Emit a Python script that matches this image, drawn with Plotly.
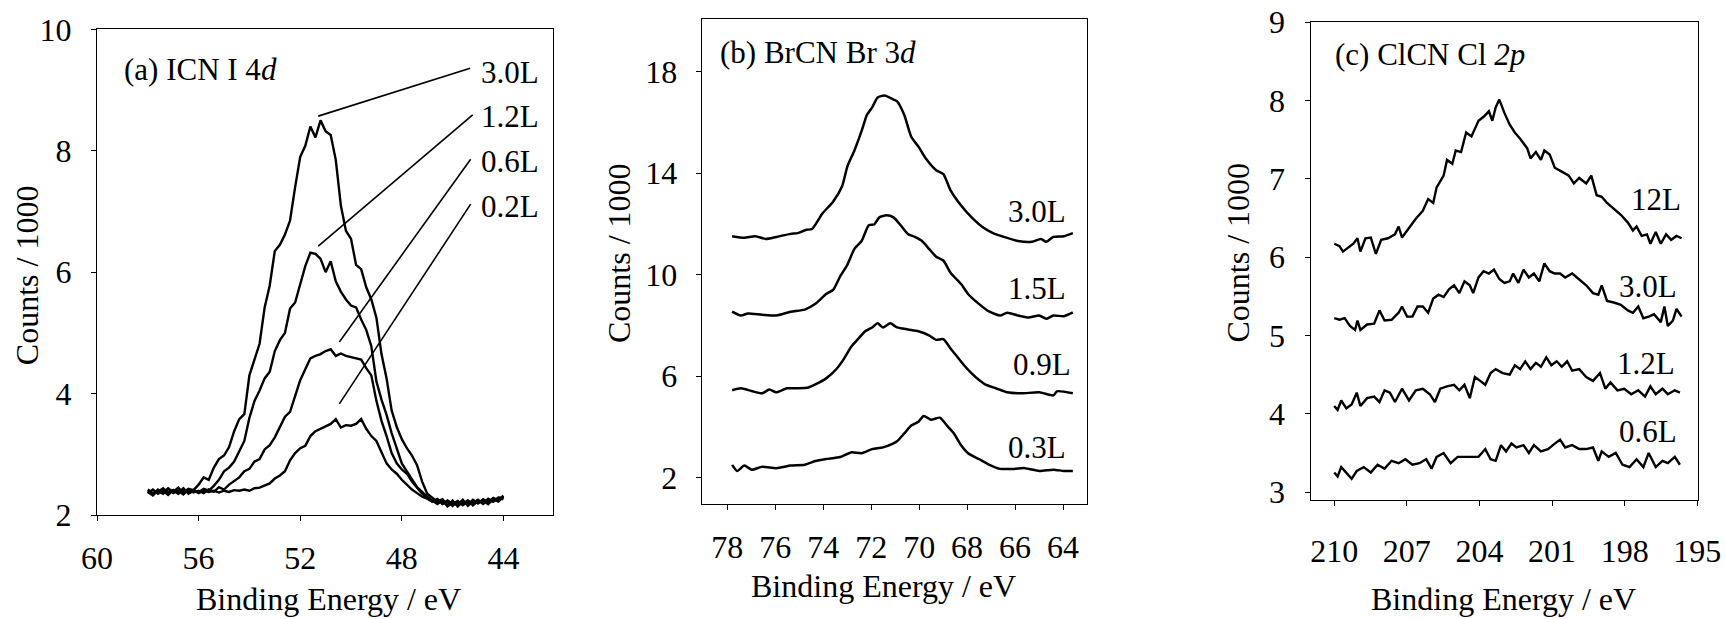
import numpy as np
import plotly.graph_objects as go

FONT = "Liberation Serif"
FS_AXIS = 32
FS_TEXT = 31

# ---------------- (a) ICN, I 4d ----------------
icn_energy = np.round(np.arange(58.0, 43.99, -0.2), 1)
icn_30L = [2.40, 2.34, 2.42, 2.36, 2.44, 2.38, 2.45, 2.37, 2.43, 2.41, 2.50, 2.62, 2.58, 2.78, 2.92,
           2.98, 3.12, 3.38, 3.58, 3.66, 4.30, 4.55, 4.82, 5.42, 5.78, 6.35, 6.45, 6.62, 6.85, 7.40,
           7.90, 8.08, 8.40, 8.22, 8.50, 8.32, 8.26, 7.85, 7.10, 6.68, 6.55, 6.12, 6.05, 5.75, 5.55,
           5.25, 4.65, 4.25, 3.72, 3.45, 3.25, 3.10, 2.98, 2.82, 2.55, 2.35, 2.28, 2.22, 2.26, 2.16,
           2.24, 2.14, 2.22, 2.18, 2.25, 2.19, 2.26, 2.21, 2.28, 2.24, 2.32]
icn_12L = [2.36, 2.42, 2.35, 2.40, 2.33, 2.41, 2.36, 2.44, 2.35, 2.40, 2.38, 2.43, 2.40, 2.48, 2.58,
           2.72, 2.78, 2.88, 3.05, 3.22, 3.60, 3.88, 4.05, 4.25, 4.36, 4.70, 4.88, 5.00, 5.40, 5.50,
           5.80, 6.10, 6.32, 6.30, 6.22, 6.00, 6.18, 5.85, 5.68, 5.55, 5.45, 5.42, 5.22, 5.05, 4.78,
           4.20, 3.90, 3.65, 3.35, 3.10, 2.85, 2.72, 2.58, 2.46, 2.38, 2.30, 2.24, 2.18, 2.24, 2.14,
           2.20, 2.17, 2.25, 2.15, 2.22, 2.20, 2.24, 2.18, 2.26, 2.22, 2.30]
icn_06L = [2.38, 2.32, 2.40, 2.35, 2.43, 2.36, 2.40, 2.34, 2.42, 2.37, 2.40, 2.36, 2.42, 2.38, 2.46,
           2.42, 2.50, 2.56, 2.62, 2.72, 2.76, 2.88, 2.92, 3.08, 3.15, 3.28, 3.45, 3.62, 3.70, 3.95,
           4.22, 4.40, 4.58, 4.62, 4.65, 4.70, 4.73, 4.62, 4.66, 4.62, 4.60, 4.58, 4.56, 4.42, 4.30,
           3.88, 3.55, 3.30, 3.02, 2.85, 2.75, 2.68, 2.55, 2.45, 2.35, 2.28, 2.22, 2.26, 2.18, 2.22,
           2.15, 2.22, 2.18, 2.24, 2.16, 2.23, 2.20, 2.27, 2.22, 2.28, 2.26]
icn_02L = [2.42, 2.36, 2.38, 2.44, 2.37, 2.41, 2.35, 2.40, 2.38, 2.41, 2.36, 2.40, 2.38, 2.40, 2.37,
           2.40, 2.38, 2.41, 2.40, 2.42, 2.40, 2.44, 2.45, 2.48, 2.52, 2.60, 2.65, 2.72, 2.90, 3.02,
           3.10, 3.14, 3.30, 3.38, 3.42, 3.45, 3.50, 3.58, 3.44, 3.48, 3.47, 3.50, 3.58, 3.42, 3.30,
           3.22, 3.02, 2.85, 2.75, 2.68, 2.58, 2.50, 2.42, 2.36, 2.30, 2.27, 2.22, 2.26, 2.19, 2.24,
           2.18, 2.23, 2.16, 2.22, 2.20, 2.25, 2.18, 2.24, 2.22, 2.29, 2.28]
icn_labels = ["3.0L", "1.2L", "0.6L", "0.2L"]
# leader lines: from the curve (x, y) to the label (x, y)
icn_leader_from = [(51.29, 8.57), (51.29, 6.43), (50.46, 4.85), (50.46, 3.83)]
icn_leader_to = [(45.31, 9.36), (45.21, 8.59), (45.29, 7.86), (45.29, 7.12)]
icn_label_y = [9.29, 8.56, 7.82, 7.08]
icn_label_x = 44.95

# ---------------- (b) BrCN, Br 3d ----------------
brcn_30L_x = [77.8, 77.29, 76.84, 76.4, 75.96, 75.36, 75.07, 74.7, 74.47, 74.03, 73.59, 73.21, 72.99,
              72.7, 72.4, 72.18, 71.96, 71.73, 71.44, 71.07, 70.92, 70.62, 70.33, 70.03, 69.73, 69.29,
              68.99, 68.7, 68.25, 67.81, 67.36, 66.92, 66.47, 65.88, 65.29, 64.92, 64.7, 64.4, 63.96, 63.59]
brcn_30L_y = [11.52, 11.46, 11.52, 11.41, 11.49, 11.61, 11.64, 11.77, 11.8, 12.42, 12.88, 13.5, 14.28,
              14.9, 15.67, 16.3, 16.6, 16.99, 17.07, 16.91, 16.84, 16.3, 15.44, 15.05, 14.59, 14.12,
              13.97, 13.35, 12.73, 12.26, 11.88, 11.64, 11.49, 11.33, 11.3, 11.41, 11.3, 11.49, 11.52, 11.64]
brcn_15L_x = [77.8, 77.44, 77.14, 76.55, 75.96, 75.36, 74.77, 74.33, 73.88, 73.59, 73.29, 72.99, 72.7,
              72.4, 72.1, 71.88, 71.66, 71.36, 71.07, 70.77, 70.47, 70.18, 69.88, 69.59, 69.29, 68.99,
              68.7, 68.25, 67.96, 67.51, 67.07, 66.62, 66.33, 65.88, 65.44, 64.99, 64.7, 64.4, 63.96, 63.59]
brcn_15L_y = [8.54, 8.39, 8.47, 8.42, 8.39, 8.54, 8.62, 8.85, 9.24, 9.4, 9.94, 10.4, 11.02,
              11.33, 11.95, 11.98, 12.26, 12.34, 12.26, 11.95, 11.61, 11.49, 11.33, 11.02, 10.71, 10.56,
              10.09, 9.63, 9.24, 8.85, 8.54, 8.39, 8.5, 8.39, 8.31, 8.39, 8.26, 8.39, 8.36, 8.51]
brcn_09L_x = [77.8, 77.44, 76.99, 76.55, 76.25, 75.96, 75.51, 75.07, 74.62, 74.33, 73.88, 73.44, 73.14,
              72.84, 72.55, 72.25, 71.96, 71.73, 71.51, 71.21, 70.92, 70.47, 70.03, 69.59, 69.29, 68.99,
              68.7, 68.4, 68.1, 67.8, 67.5, 67.2, 66.8, 66.33, 65.73, 64.99, 64.4, 64.25, 63.59]
brcn_09L_y = [5.44, 5.52, 5.41, 5.32, 5.47, 5.36, 5.52, 5.52, 5.55, 5.67, 5.91, 6.29, 6.68,
              7.15, 7.46, 7.77, 7.92, 8.08, 7.92, 8.08, 7.92, 7.84, 7.77, 7.61, 7.43, 7.46,
              7.1, 6.75, 6.4, 6.1, 5.85, 5.65, 5.52, 5.36, 5.32, 5.36, 5.24, 5.4, 5.32]
brcn_03L_x = [77.8, 77.59, 77.29, 76.99, 76.55, 75.96, 75.36, 74.77, 74.33, 73.88, 73.29, 72.84, 72.4,
              71.96, 71.51, 71.07, 70.92, 70.62, 70.33, 70.03, 69.81, 69.51, 69.14, 68.84, 68.55, 68.25,
              67.96, 67.51, 67.07, 66.62, 66.03, 65.59, 64.99, 64.4, 63.96, 63.59]
brcn_03L_y = [2.5, 2.26, 2.47, 2.31, 2.42, 2.37, 2.47, 2.5, 2.65, 2.73, 2.81, 2.99, 2.96,
              3.12, 3.19, 3.35, 3.43, 3.74, 4.05, 4.2, 4.43, 4.28, 4.36, 4.05, 3.74, 3.27,
              2.96, 2.73, 2.5, 2.34, 2.34, 2.37, 2.26, 2.31, 2.26, 2.26]
brcn_labels = ["3.0L", "1.5L", "0.9L", "0.3L"]
brcn_label_x = [63.78, 63.78, 63.57, 63.78]
brcn_label_y = [12.49, 9.47, 6.44, 3.2]

# ---------------- (c) ClCN, Cl 2p ----------------
clcn_12L_x = [210, 209.78, 209.64, 209.43, 209.21, 209.04, 208.92, 208.71, 208.49, 208.28, 208.06, 207.78,
              207.49, 207.34, 207.2, 206.91, 206.63, 206.34, 206.12, 205.91, 205.77, 205.48, 205.34,
              205.12, 204.98, 204.76, 204.55, 204.33, 204.04, 203.83, 203.61, 203.47, 203.33, 203.18,
              202.97, 202.75, 202.54, 202.32, 202.03, 201.89, 201.67, 201.46, 201.32, 201.1, 200.89,
              200.6, 200.31, 200.1, 199.88, 199.59, 199.38, 199.16, 198.95, 198.73, 198.45, 198.16,
              197.87, 197.66, 197.51, 197.3, 197.08, 196.94, 196.72, 196.51, 196.29, 196.08, 195.86, 195.65]
clcn_12L_y = [6.17, 6.14, 6.07, 6.12, 6.17, 6.24, 6.07, 6.24, 6.25, 6.04, 6.22, 6.24,
              6.29, 6.39, 6.25, 6.37, 6.49, 6.59, 6.74, 6.69, 6.89, 7.04, 7.24,
              7.19, 7.36, 7.34, 7.59, 7.54, 7.74, 7.79, 7.86, 7.74, 7.91, 8.01,
              7.84, 7.69, 7.59, 7.51, 7.39, 7.26, 7.34, 7.24, 7.36, 7.31, 7.14,
              7.09, 7.04, 6.94, 7.01, 6.94, 7.04, 6.79, 6.77, 6.69, 6.62, 6.54,
              6.44, 6.34, 6.39, 6.27, 6.29, 6.17, 6.32, 6.17, 6.29, 6.22, 6.27, 6.24]
clcn_30L_x = [210, 209.78, 209.57, 209.35, 209.14, 209.04, 208.92, 208.64, 208.35, 208.13, 207.92, 207.63,
              207.34, 207.2, 206.99, 206.77, 206.56, 206.34, 206.12, 205.91, 205.69, 205.48, 205.26,
              205.05, 204.83, 204.62, 204.4, 204.26, 204.04, 203.83, 203.61, 203.4, 203.18, 202.97,
              202.75, 202.61, 202.39, 202.18, 201.96, 201.75, 201.53, 201.32, 201.1, 200.89, 200.67,
              200.46, 200.17, 199.88, 199.59, 199.31, 199.09, 198.95, 198.73, 198.45, 198.16, 197.87,
              197.66, 197.44, 197.23, 197.01, 196.79, 196.51, 196.36, 196.22, 196.01, 195.86, 195.65]
clcn_30L_y = [5.22, 5.2, 5.22, 5.12, 5.07, 5.19, 5.07, 5.14, 5.15, 5.32, 5.19, 5.2,
              5.29, 5.37, 5.24, 5.24, 5.37, 5.37, 5.29, 5.47, 5.52, 5.49, 5.59,
              5.64, 5.54, 5.69, 5.64, 5.54, 5.74, 5.82, 5.79, 5.84, 5.72, 5.67,
              5.69, 5.79, 5.67, 5.84, 5.74, 5.79, 5.69, 5.92, 5.82, 5.79, 5.79,
              5.74, 5.79, 5.72, 5.64, 5.54, 5.52, 5.64, 5.44, 5.42, 5.39, 5.32,
              5.29, 5.37, 5.22, 5.24, 5.27, 5.17, 5.37, 5.12, 5.19, 5.34, 5.24]
clcn_12Lb_x = [210, 209.86, 209.71, 209.5, 209.28, 209.07, 208.92, 208.64, 208.35, 208.13, 207.92, 207.7,
               207.49, 207.2, 206.91, 206.63, 206.34, 206.05, 205.84, 205.62, 205.34, 205.05, 204.83,
               204.62, 204.4, 204.19, 203.97, 203.76, 203.54, 203.33, 203.04, 202.75, 202.54, 202.32,
               202.11, 201.89, 201.67, 201.46, 201.24, 201.03, 200.81, 200.6, 200.38, 200.17, 199.88,
               199.59, 199.31, 199.02, 198.8, 198.59, 198.3, 198.02, 197.73, 197.44, 197.16, 196.94,
               196.72, 196.44, 196.22, 195.93, 195.72]
clcn_12Lb_y = [4.1, 4.05, 4.17, 4.07, 4.12, 4.27, 4.1, 4.2, 4.22, 4.15, 4.3, 4.27,
               4.15, 4.32, 4.17, 4.3, 4.32, 4.25, 4.15, 4.32, 4.35, 4.37, 4.3,
               4.37, 4.2, 4.47, 4.42, 4.37, 4.52, 4.57, 4.52, 4.5, 4.62, 4.57,
               4.67, 4.57, 4.65, 4.6, 4.72, 4.62, 4.67, 4.6, 4.67, 4.55, 4.57,
               4.47, 4.42, 4.52, 4.32, 4.4, 4.3, 4.32, 4.25, 4.3, 4.22, 4.35,
               4.25, 4.32, 4.25, 4.3, 4.27]
clcn_06L_x = [210, 209.86, 209.71, 209.5, 209.28, 209.07, 208.78, 208.49, 208.21, 207.92, 207.63, 207.34,
              207.06, 206.77, 206.48, 206.2, 205.98, 205.77, 205.48, 205.19, 204.9, 204.62, 204.33,
              204.04, 203.76, 203.54, 203.33, 203.11, 202.9, 202.68, 202.47, 202.18, 201.96, 201.75,
              201.46, 201.17, 200.89, 200.67, 200.46, 200.17, 199.88, 199.59, 199.31, 199.09, 198.95,
              198.66, 198.37, 198.09, 197.8, 197.51, 197.23, 197.01, 196.72, 196.44, 196.22, 195.93, 195.72]
clcn_06L_y = [3.25, 3.2, 3.32, 3.25, 3.17, 3.27, 3.32, 3.25, 3.35, 3.3, 3.4, 3.37,
              3.42, 3.35, 3.37, 3.42, 3.3, 3.45, 3.5, 3.37, 3.45, 3.45, 3.45,
              3.45, 3.55, 3.42, 3.4, 3.6, 3.52, 3.62, 3.57, 3.6, 3.5, 3.6,
              3.52, 3.55, 3.62, 3.67, 3.57, 3.6, 3.55, 3.55, 3.57, 3.4, 3.52,
              3.45, 3.5, 3.35, 3.32, 3.42, 3.32, 3.5, 3.32, 3.4, 3.37, 3.45, 3.35]
clcn_labels = ["12L", "3.0L", "1.2L", "0.6L"]
clcn_label_x = [195.58, 195.74, 195.82, 195.74]
clcn_label_y = [6.73, 5.62, 4.64, 3.77]

LINE = dict(color="black", width=2.4)

fig = go.Figure()
for ys in (icn_30L, icn_12L, icn_06L, icn_02L):
    fig.add_trace(go.Scatter(x=icn_energy, y=ys, mode="lines", line=LINE,
                             xaxis="x", yaxis="y", showlegend=False, hoverinfo="skip"))
for xs, ys in ((brcn_30L_x, brcn_30L_y), (brcn_15L_x, brcn_15L_y),
               (brcn_09L_x, brcn_09L_y), (brcn_03L_x, brcn_03L_y)):
    fig.add_trace(go.Scatter(x=xs, y=ys, mode="lines",
                             line=dict(color="black", width=2.5, shape="spline", smoothing=0.6),
                             xaxis="x2", yaxis="y2", showlegend=False, hoverinfo="skip"))
for xs, ys in ((clcn_12L_x, clcn_12L_y), (clcn_30L_x, clcn_30L_y),
               (clcn_12Lb_x, clcn_12Lb_y), (clcn_06L_x, clcn_06L_y)):
    fig.add_trace(go.Scatter(x=xs, y=ys, mode="lines", line=LINE,
                             xaxis="x3", yaxis="y3", showlegend=False, hoverinfo="skip"))


def axis(domain, rng, dtick, tick0, anchor, standoff):
    return dict(domain=domain, range=rng, dtick=dtick, tick0=tick0, anchor=anchor,
                automargin=False,
                showline=True, linecolor="black", linewidth=1, mirror=True,
                ticks="outside", ticklen=5, tickwidth=1, tickcolor="black",
                showgrid=False, zeroline=False, ticklabelstandoff=standoff,
                tickfont=dict(family=FONT, size=FS_AXIS, color="black"))


W, H = 1726, 619
fig.update_layout(
    template="none",
    width=W, height=H, autosize=False,
    margin=dict(l=0, r=0, t=0, b=0, pad=0, autoexpand=False),
    showlegend=False,
    paper_bgcolor="white", plot_bgcolor="white",
    font=dict(family=FONT, size=FS_AXIS, color="black"),
    xaxis=axis([97 / W, 552.7 / W], [60, 42.06], 4, 60, "y", 10),
    yaxis=axis([1 - 515 / H, 1 - 29.3 / H], [2, 10], 2, 2, "x", 13),
    xaxis2=axis([701.7 / W, 1086.5 / W], [79.07, 63.02], 2, 64, "y2", 10),
    yaxis2=axis([1 - 504 / H, 1 - 18.9 / H], [0.955, 20.09], 4, 2, "x2", 12),
    xaxis3=axis([1310.5 / W, 1698.3 / W], [210.98, 194.96], 3, 195, "y3", 18),
    yaxis3=axis([1 - 500 / H, 1 - 22 / H], [2.9, 9], 1, 3, "x3", 13),
)

ann = []
# panel titles
ann.append(dict(x=59.03, y=9.33, xref="x", yref="y", text="(a) ICN I 4<i>d</i>", xanchor="left"))
ann.append(dict(x=78.37, y=18.78, xref="x2", yref="y2", text="(b) BrCN Br 3<i>d</i>", xanchor="left"))
ann.append(dict(x=210.04, y=8.58, xref="x3", yref="y3", text="(c) ClCN Cl <i>2p</i>", xanchor="left"))
# curve labels
for lab, ly in zip(icn_labels, icn_label_y):
    ann.append(dict(x=icn_label_x, y=ly, xref="x", yref="y", text=lab, xanchor="left"))
for lab, lx, ly in zip(brcn_labels, brcn_label_x, brcn_label_y):
    ann.append(dict(x=lx, y=ly, xref="x2", yref="y2", text=lab, xanchor="right"))
for lab, lx, ly in zip(clcn_labels, clcn_label_x, clcn_label_y):
    ann.append(dict(x=lx, y=ly, xref="x3", yref="y3", text=lab, xanchor="right"))
for a in ann:
    a.update(showarrow=False, yanchor="middle",
             font=dict(family=FONT, size=FS_TEXT, color="black"))

# axis titles (pixel centres converted to paper fractions)
titles = []
for cx, cy in ((328, 599), (883.3, 585.7), (1503.3, 598.5)):
    titles.append(dict(x=cx / W, y=1 - cy / H, text="Binding Energy / eV"))
for cx, cy in ((26.7, 275.5), (618.3, 252.7), (1237.7, 252.8)):
    titles.append(dict(x=cx / W, y=1 - cy / H, text="Counts / 1000", textangle=-90))
for t in titles:
    t.update(xref="paper", yref="paper", xanchor="center", yanchor="middle", showarrow=False,
             borderpad=0, font=dict(family=FONT, size=FS_AXIS, color="black"))
fig.update_layout(annotations=ann + titles)

shapes = []
for (x0, y0), (x1, y1) in zip(icn_leader_from, icn_leader_to):
    shapes.append(dict(type="line", xref="x", yref="y", x0=x0, y0=y0, x1=x1, y1=y1,
                       line=dict(color="black", width=1.6)))
fig.update_layout(shapes=shapes)

fig.write_html("out.html")
